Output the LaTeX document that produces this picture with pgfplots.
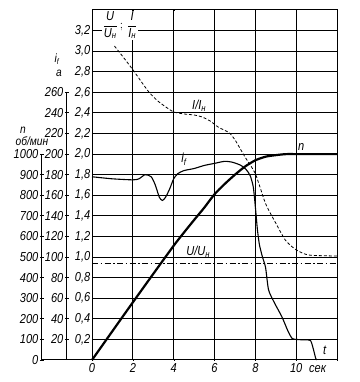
\documentclass[border=0pt]{standalone}
\usepackage{amsmath}
\usepackage{fontspec}
\setmainfont{Liberation Sans}[FakeStretch=0.85]
\usepackage{pgfplots}
\pgfplotsset{compat=1.18}
\newcommand{\tf}{\fontsize{13}{14}\selectfont\itshape}
\newcommand{\lf}{\fontsize{12}{13}\selectfont\itshape}
\begin{document}
\begin{tikzpicture}
% n axis (об/мин)
\begin{axis}[at={(-50pt,0pt)}, anchor=origin, scale only axis,
  width=20pt, height=205.88pt, xmin=0, xmax=1, ymin=0, ymax=1000,
  axis x line=none, axis y line=left, xtick=\empty,
  axis line style={-, line width=1pt, black},
  ytick={0,100,200,300,400,500,600,700,800,900,1000},
  yticklabels={0,100,200,300,400,500,600,700,800,900,1000},
  yticklabel style={font=\tf, inner sep=1.5pt},
  major tick length=4pt, tick style={black, line width=0.9pt}]
\end{axis}
% i_f axis (a)
\begin{axis}[at={(-25pt,0pt)}, anchor=origin, scale only axis,
  width=20pt, height=267.65pt, xmin=0, xmax=1, ymin=0, ymax=260,
  axis x line=none, axis y line=left, xtick=\empty,
  axis line style={-, line width=1pt, black},
  ytick={20,40,60,80,100,120,140,160,180,200,220,240,260},
  yticklabels={20,40,60,80,100,120,140,160,180,200,220,240,260},
  yticklabel style={font=\tf, inner sep=1.5pt},
  major tick length=4pt, tick style={black, line width=0.9pt}]
\end{axis}
% main axis
\begin{axis}[at={(0pt,0pt)}, anchor=origin, scale only axis,
  width=245pt, height=350pt, xmin=0, xmax=12, ymin=0, ymax=3.4,
  clip=false,
  axis line style={line width=1pt, black},
  xtick={0,2,4,6,8,10,12}, xticklabels={0,2,4,6,8,10,},
  ytick={0,0.2,0.4,0.6,0.8,1.0,1.2,1.4,1.6,1.8,2.0,2.2,2.4,2.6,2.8,3.0,3.2},
  yticklabels={,{0,2},{0,4},{0,6},{0,8},{1,0},{1,2},{1,4},{1,6},{1,8},{2,0},{2,2},{2,4},{2,6},{2,8},{3,0},{3,2}},
  xticklabel style={font=\tf},
  yticklabel style={font=\tf, inner sep=1.5pt},
  major tick length=0.1pt, tick style={black}]
% n
\addplot[black, line width=2.2pt, smooth, tension=0.4] coordinates {
 (0,0) (2,0.56) (4,1.11) (5,1.36) (5.5,1.48) (6,1.61) (6.5,1.71) (7,1.80)
 (7.5,1.88) (8,1.94) (8.5,1.975) (9,1.99) (9.5,2.0) (10,2.0) (12,2.0)};
% i_f
\addplot[black, line width=1.1pt, smooth, tension=0.4] coordinates {
 (0,1.78) (1,1.76) (2,1.75) (2.3,1.76) (2.6,1.80) (2.9,1.78) (3.1,1.70)
 (3.3,1.58) (3.45,1.55) (3.6,1.58) (3.8,1.66) (4.0,1.76) (4.2,1.81)
 (4.5,1.84) (5,1.86) (5.5,1.89) (6,1.91) (6.5,1.93) (6.9,1.92) (7.3,1.89)
 (7.55,1.85) (7.75,1.79) (7.9,1.68) (8.0,1.49) (8.1,1.27) (8.2,1.12)
 (8.35,1.0) (8.5,0.9) (8.65,0.68) (8.95,0.55) (9.3,0.42) (9.6,0.28)
 (9.8,0.21) (10,0.2) (10.4,0.195) (10.7,0.19) (10.85,0.1) (10.95,0.02) (11,0)};
% I/I_n
\addplot[black, line width=0.8pt, dash pattern=on 3pt off 2pt, smooth, tension=0.4] coordinates {
 (1.1,3.05) (1.5,2.95) (2,2.82) (2.5,2.68) (2.8,2.6) (3.2,2.52) (3.6,2.46)
 (4,2.41) (4.5,2.39) (5,2.38) (5.4,2.36) (5.8,2.32) (6.2,2.26) (6.7,2.21)
 (7.0,2.14) (7.5,1.97) (8.0,1.81) (8.5,1.52) (9.0,1.33) (9.45,1.17)
 (9.8,1.10) (10.0,1.07) (10.6,1.02) (12,1.01)};
% U/U_n
\addplot[black, line width=0.9pt, dash pattern=on 6pt off 2.5pt on 1.5pt off 2.5pt] coordinates {
 (0,0.94) (12,0.94)};
\coordinate (Ln) at (axis cs:10.25,2.07);
\coordinate (Lif) at (axis cs:4.5,1.95);
\coordinate (LI) at (axis cs:5.25,2.47);
\coordinate (LU) at (axis cs:5.2,1.05);
\coordinate (Lt) at (axis cs:11.4,0.09);
\coordinate (Ls) at (axis cs:11.05,-0.09);
\coordinate (Lf) at (axis cs:1.37,3.25);
\end{axis}
% grid of the main field, drawn on top (20.4167pt per s, 102.941pt per unit)
\foreach \k in {1,2,3,4,5}{
  \draw[black, line width=0.9pt] ({\k*40.8333pt},0pt) -- ({\k*40.8333pt},350pt);}
\foreach \k in {1,...,16}{
  \draw[black, line width=0.9pt] (0pt,{\k*20.5882pt}) -- (245pt,{\k*20.5882pt});}
\node[font=\tf] at (Ln) {n};
\node[font=\tf] at (Lif) {i\textsubscript{f}};
\node[font=\tf] at (LI) {I/I\textsubscript{н}};
\node[font=\tf] at (LU) {U/U\textsubscript{н}};
\node[font=\tf, fill=white, inner sep=0.5pt] at (Lt) {t};
\node[font=\tf] at (Ls) {сек};
\node[font=\tf, fill=white, inner sep=1pt] at (Lf)
 {$\dfrac{\text{\itshape U}}{\text{\itshape U}_{\text{\itshape н}}}\,;\,\dfrac{\text{\itshape I}}{\text{\itshape I}_{\text{\itshape н}}}$};
\draw[line width=1pt] (-50pt,0pt) -- (0pt,0pt);
\node[font=\lf, inner sep=0pt] at (-69pt,230pt) {n};
\node[font=\lf, inner sep=0pt] at (-60pt,219pt) {об/мин};
\node[font=\lf, inner sep=0pt] at (-35pt,301pt) {i\textsubscript{f}};
\node[font=\lf, inner sep=0pt] at (-33pt,287pt) {а};
\pgfresetboundingbox
\path (-92pt,-22pt) rectangle (267pt,360pt);
\end{tikzpicture}
\end{document}
